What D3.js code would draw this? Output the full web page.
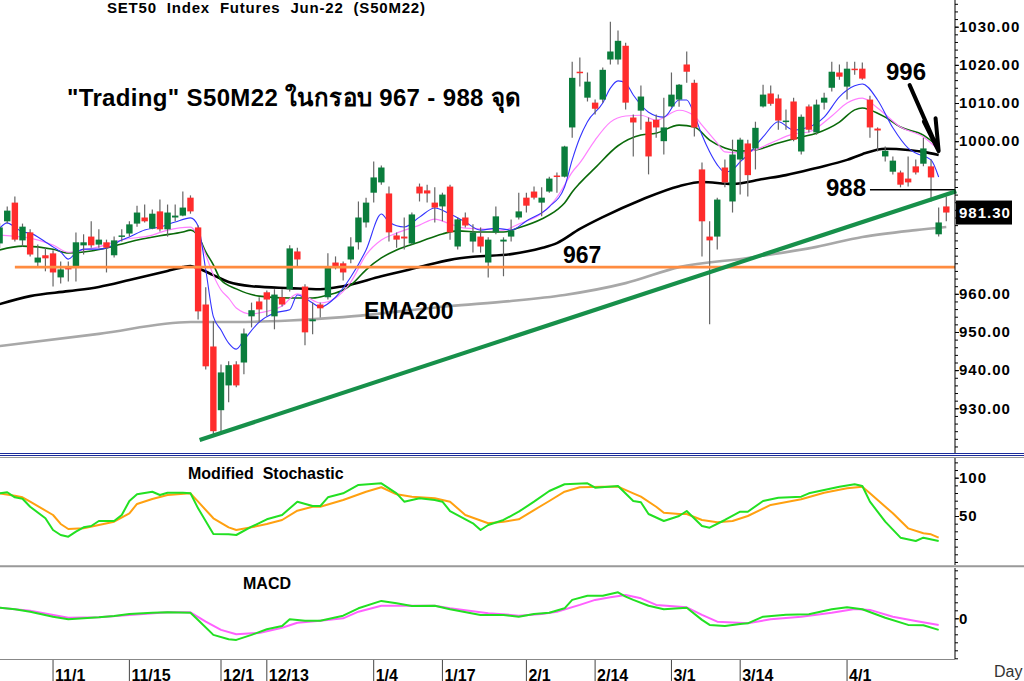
<!DOCTYPE html>
<html>
<head>
<meta charset="utf-8">
<script src="https://cdnjs.cloudflare.com/ajax/libs/d3/7.8.5/d3.min.js"></script>
<style>
  body { margin: 0; background: #fff; }
  svg text { font-family: "Liberation Sans", Arial, "Noto Sans", "DejaVu Sans", sans-serif; }
</style>
</head>
<body>
<div id="chart"></div>
<script>
// trading days, Oct 2021 - Apr 2022
var dates = ["10/20","10/21","10/22","10/26","10/27","10/28","10/29",
  "11/1","11/2","11/3","11/4","11/5","11/8","11/9","11/10","11/11","11/12","11/15","11/16","11/17","11/18","11/19","11/22","11/23","11/24","11/25","11/26","11/29","11/30",
  "12/1","12/2","12/3","12/7","12/8","12/9","12/13","12/14","12/15","12/16","12/17","12/20","12/21","12/22","12/23","12/24","12/27","12/28","12/29","12/30",
  "1/4","1/5","1/6","1/7","1/10","1/11","1/12","1/13","1/14","1/17","1/18","1/19","1/20","1/21","1/24","1/25","1/26","1/27","1/28","1/31",
  "2/1","2/2","2/3","2/4","2/7","2/8","2/9","2/10","2/11","2/14","2/15","2/17","2/18","2/21","2/22","2/23","2/24","2/25","2/28",
  "3/1","3/2","3/3","3/4","3/7","3/8","3/9","3/10","3/11","3/14","3/15","3/16","3/17","3/18","3/21","3/22","3/23","3/24","3/25","3/28","3/29","3/30","3/31",
  "4/1","4/4","4/5","4/7","4/8","4/11","4/12","4/18","4/19","4/20","4/21","4/22","4/25","4/26"];
var tickDates = ["11/1","11/15","12/1","12/13","1/4","1/17","2/1","2/14","3/1","3/14","4/1"];
var priceTicks = [930, 940, 950, 960, 1000, 1010, 1020, 1030];

var open = [973.2,979.0,983.9,974.0,976.1,968.2,970.1,970.6,964.3,967.2,967.2,972.7,975.0,972.9,973.5,970.1,975.0,975.8,978.4,980.0,
  977.1,981.6,976.9,980.0,980.5,985.2,977.4,957.2,946.2,929.5,936.0,941.5,942.0,954.1,958.0,960.4,954.1,959.1,961.2,971.1,
  961.9,952.8,957.2,959.1,968.2,968.0,969.0,973.5,978.7,986.5,989.2,986.3,975.3,975.0,973.2,988.1,987.1,983.9,982.9,988.1,
  972.4,980.0,973.7,975.0,968.2,976.1,973.7,975.0,980.0,985.2,986.8,983.9,986.8,991.0,990.7,1003.6,1018.2,1011.4,1010.1,1010.9,
  1021.4,1021.4,1025.0,1006.2,1008.0,1005.1,1005.6,1000.0,1009.1,1010.9,1020.1,1015.3,992.6,975.0,975.0,993.1,984.2,995.2,999.4,998.1,
  1009.1,1012.5,1011.2,1005.0,1010.4,997.3,1009.1,1002.3,1010.1,1014.0,1018.0,1014.3,1019.0,1019.0,1010.9,1003.3,996.0,992.0,991.8,990.2,
  993.4,994.1,993.4,975.6,982.9];
var high = [978.5,982.9,985.5,978.4,976.9,972.9,972.1,971.4,968.5,968.5,976.1,975.6,979.0,976.9,974.2,975.0,976.9,979.0,983.1,983.4,
  982.1,984.7,983.4,983.4,986.8,985.8,977.9,961.7,952.8,941.5,942.3,942.3,950.9,957.7,959.1,960.9,961.2,961.2,972.7,972.1,
  962.5,957.7,957.7,970.6,969.8,968.5,974.8,984.2,985.2,994.7,993.6,988.1,976.1,980.0,981.3,988.9,988.6,987.9,986.5,988.6,
  980.0,981.3,978.2,977.4,974.8,982.9,974.8,979.5,986.5,986.5,988.1,987.9,990.7,991.8,998.8,1020.8,1021.9,1018.0,1010.9,1019.3,
  1031.3,1029.0,1025.8,1007.0,1014.6,1006.2,1007.0,1011.4,1018.0,1015.0,1023.5,1016.1,994.4,979.0,985.2,995.2,1000.4,1000.9,1000.4,1005.1,
  1014.8,1014.6,1012.2,1008.3,1011.4,1007.0,1009.6,1010.9,1012.7,1020.8,1020.1,1020.8,1020.8,1020.6,1011.9,1003.6,998.6,996.0,992.3,996.0,
  995.2,1000.9,995.2,982.6,985.5];
var low = [972.0,978.4,973.7,972.4,969.8,967.2,965.9,961.9,962.7,963.2,963.2,970.3,972.1,972.1,965.6,969.5,973.7,975.0,977.6,978.7,
  976.9,976.3,975.0,979.0,980.3,981.0,953.3,940.2,923.2,924.0,931.6,935.5,938.9,951.2,952.5,954.1,950.7,956.7,960.6,967.2,
  946.5,949.4,953.8,958.5,966.4,963.5,968.0,971.6,977.4,983.9,988.6,973.7,972.1,971.6,972.9,984.2,983.9,978.7,979.0,974.2,
  971.6,977.4,970.8,970.8,964.3,975.6,964.6,973.7,979.5,981.3,984.7,980.3,986.5,986.5,990.5,1000.9,1014.3,1010.4,1007.0,1010.1,
  1020.1,1020.1,1008.3,996.0,1003.0,991.3,1000.9,996.5,1008.8,1009.0,1015.3,1001.2,969.8,952.0,971.6,987.9,981.3,986.0,985.5,992.6,
  1008.8,1009.3,1003.0,1003.0,1000.0,996.5,1002.3,1001.7,1008.3,1013.0,1016.1,1010.9,1017.4,1016.1,1000.9,997.3,994.7,991.3,987.9,988.1,
  991.3,993.4,984.2,975.0,979.0];
var close = [977.4,981.8,974.2,977.6,970.3,969.5,969.3,965.6,966.4,966.4,973.5,973.5,972.7,974.2,972.1,974.0,975.3,978.2,981.3,979.0,
  981.0,976.9,981.3,980.5,982.6,981.6,955.4,941.0,924.0,939.4,941.3,936.0,949.6,955.7,955.9,958.5,959.8,957.2,971.9,969.0,
  949.9,953.3,956.2,967.2,967.2,965.6,972.4,980.0,983.9,990.5,993.1,976.1,974.2,974.5,980.8,986.3,986.3,982.6,986.0,976.1,
  979.5,977.9,976.1,972.4,974.2,980.3,974.2,976.6,981.6,983.1,985.2,985.2,990.2,990.7,998.6,1016.6,1018.0,1015.6,1008.5,1018.7,
  1023.5,1026.3,1010.1,1004.9,1011.7,996.0,1003.6,1003.6,1012.2,1014.8,1018.2,1003.6,979.0,974.0,984.7,989.2,996.5,1000.4,991.1,1003.5,
  1012.2,1009.8,1005.4,1005.4,1000.4,1006.4,1003.0,1009.6,1011.4,1018.2,1016.9,1019.0,1018.7,1016.4,1003.6,1002.8,997.5,994.9,988.6,989.2,
  991.8,998.1,990.5,978.7,981.3];

// moving averages: [bar index, value]
var emaBlue = [[0,977.2],[1,978.6],[2,977.5],[3,976.2],[4,975.9],[6,973.6],[7,972.3],[8,971.0],[9,969.1],[10,970.7],[11,971.7],[13,971.7],
  [14,972.0],[16,974.1],[17,974.9],[19,976.7],[21,977.5],[23,978.8],[25,979.9],[26,977.8],[27,966.3],[28,954.0],[29,950.5],[30,947.1],
  [31,945.5],[32,947.9],[34,952.6],[36,955.0],[38,955.8],[39,959.7],[41,957.6],[42,956.5],[44,959.1],[46,964.4],[48,971.5],[50,980.9],
  [51,978.8],[53,977.5],[55,980.1],[57,982.5],[59,980.9],[61,978.8],[63,976.7],[65,977.2],[67,976.7],[69,979.1],[72,982.8],[74,988.0],
  [75,995.1],[76,1000.9],[77,1005.1],[79,1010.0],[80,1013.9],[81,1015.8],[82,1015.2],[83,1012.1],[85,1007.6],[87,1006.3],[89,1010.8],
  [90,1010.8],[91,1006.9],[92,1001.6],[93,997.2],[94,993.8],[95,991.9],[96,992.5],[97,994.6],[98,996.4],[100,1001.1],[102,1005.1],
  [104,1002.9],[106,1003.7],[108,1006.3],[110,1011.6],[112,1014.5],[113,1015.0],[115,1010.8],[117,1003.5],[119,998.2],[120,996.9],
  [122,995.1],[123,990.6]];
var emaPink = [[0,975.4],[3,974.9],[4,974.6],[7,972.8],[9,970.9],[11,971.5],[13,972.3],[16,974.1],[20,975.4],[22,976.7],[25,977.5],
  [26,975.1],[27,970.2],[28,964.9],[29,961.0],[30,958.9],[31,956.3],[33,954.7],[34,955.0],[37,956.8],[39,960.0],[40,959.4],[42,957.6],
  [44,958.9],[46,963.1],[48,970.2],[50,974.1],[52,975.9],[55,978.0],[57,979.6],[59,978.3],[61,977.2],[63,977.0],[66,976.7],[68,978.3],
  [71,981.1],[73,985.3],[74,988.5],[75,991.9],[76,994.3],[78,1000.3],[80,1005.0],[82,1006.6],[84,1006.8],[86,1005.5],[89,1008.1],
  [91,1006.6],[92,1004.2],[94,999.5],[95,997.2],[97,996.9],[99,997.7],[101,999.5],[104,1001.9],[106,1002.4],[109,1006.6],[111,1010.0],
  [113,1011.3],[115,1008.7],[118,1003.7],[121,1001.1],[123,997.7]];
var emaGreen = [[0,971.5],[3,972.5],[7,971.7],[9,970.7],[12,971.2],[14,972.0],[17,973.6],[21,975.2],[24,976.2],[25,976.7],[26,975.2],
  [27,971.0],[28,967.6],[29,963.6],[31,961.3],[34,959.4],[38,958.9],[41,958.9],[43,959.7],[45,961.0],[46,962.3],[48,966.3],[50,969.4],
  [52,971.5],[55,973.6],[58,975.7],[60,976.5],[63,976.2],[66,976.2],[68,977.3],[71,979.6],[73,982.0],[74,983.8],[75,986.7],[76,989.0],
  [78,993.0],[81,998.8],[84,1001.6],[86,1002.1],[89,1004.2],[91,1003.7],[93,1000.3],[95,998.2],[97,997.4],[99,997.7],[102,999.5],
  [105,1001.1],[107,1002.1],[110,1005.0],[112,1008.2],[113,1008.7],[114,1008.2],[116,1006.3],[118,1003.7],[121,1001.6],[123,998.5]];
var emaBlack = [[0,957.3],[4,959.4],[9,960.7],[13,961.8],[17,963.6],[22,966.0],[24,967.0],[25,967.3],[26,966.7],[28,964.9],[30,963.1],
  [33,962.0],[38,961.5],[42,961.2],[45,962.0],[50,964.6],[55,967.0],[59,968.9],[62,969.7],[67,970.4],[71,972.0],[73,973.3],[76,977.0],
  [79,980.1],[84,984.6],[89,988.2],[92,989.3],[96,988.8],[100,990.1],[103,991.1],[107,993.0],[111,995.1],[113,996.6],[116,998.0],
  [119,997.7],[121,997.2],[123,996.4]];
var ema200 = [[0,946.3],[13,949.5],[25,952.6],[31,952.6],[38,953.0],[45,953.9],[59,956.8],[67,958.1],[74,959.7],[82,962.8],[89,967.0],
  [98,969.4],[107,972.3],[113,974.9],[120,976.7],[124,977.5]];

// modified stochastic
var stochK = [[0,79.6],[1,81],[2,74.4],[3,72.6],[4,62.1],[6,47],[7,31.7],[8,25.2],[9,23],[10,29.5],[11,35.2],[12,36.9],[13,43.5],[15,43.5],
  [16,51.3],[17,69.6],[18,78.3],[20,81.7],[21,77.4],[22,80.4],[24,80.4],[25,79.6],[26,60],[28,26.5],[30,26.1],[31,25.2],[33,36],[35,45.7],
  [37,51.3],[39,68.7],[41,63],[42,63],[43,74.4],[45,79.6],[47,90.5],[50,92.7],[52,79.6],[53,68.7],[55,73.1],[57,70.9],[58,68.7],[59,56.5],
  [62,40.5],[63,31.7],[64,38.3],[66,44.8],[68,55.6],[70,68.7],[72,82.6],[74,91.4],[77,92.7],[78,86.9],[81,89.2],[83,69.6],[84,67.9],
  [85,52.6],[87,43.5],[89,50],[90,56.5],[92,36.9],[93,34.7],[95,44.8],[97,55.6],[98,55.6],[100,69.6],[102,73.9],[105,75.2],[106,79.6],
  [108,83.9],[110,88.3],[112,91.4],[113,89.2],[114,68.7],[116,42.6],[118,21.7],[120,17.4],[121,21.7],[123,17.4]];
var stochD = [[0,79.6],[2,76.5],[3,74.4],[4,68.7],[7,51.3],[8,39.6],[9,33],[11,33.9],[13,38.3],[15,42.6],[17,53.5],[18,65.7],[20,72.2],
  [22,77.4],[25,79.6],[26,68.7],[28,47],[30,35.2],[31,31.7],[33,35.2],[35,39.6],[37,44.8],[39,56.9],[41,62.1],[42,62.1],[45,70.9],
  [48,81.7],[50,87.5],[52,78.3],[54,75.2],[57,73.1],[59,68.7],[61,51.3],[64,40.5],[66,42.6],[68,45.7],[70,57.8],[72,69.6],[74,81.7],
  [76,87.5],[79,88.3],[81,88.3],[83,79.6],[84,75.2],[86,62.1],[87,54.3],[89,52.6],[90,52.6],[92,44.8],[94,41.8],[96,43.5],[98,50],
  [101,64.4],[105,71.8],[108,80.4],[111,86.2],[113,88.3],[114,79.6],[117,53.5],[119,33.9],[121,27.4],[122,26.1],[123,21.7]];

// MACD and signal
var macdLine = [[0,5.3],[2,4.5],[4,3.3],[7,0.8],[9,-0.5],[11,0],[13,0.5],[15,1.2],[17,2.2],[20,2.8],[22,3],[25,2.8],[26,-0.8],[28,-8.3],
  [30,-10.5],[31,-10.8],[33,-8.3],[35,-5.5],[37,-3.8],[38,-0.5],[40,-1.2],[42,-1.2],[45,1.3],[47,5],[50,8.7],[52,7.5],[54,6.2],[57,6.3],
  [59,4.5],[63,1.7],[66,1.7],[68,0.8],[70,2.2],[72,2.8],[74,5],[75,9.2],[77,11.3],[79,11.3],[81,13],[82,10.8],[83,9.2],[85,6.3],[87,4.5],
  [90,5.3],[92,-0.8],[93,-3.3],[95,-3.8],[97,-2.8],[98,-2.5],[100,0.8],[103,1.8],[106,2],[109,4.5],[111,5.5],[113,4.5],[116,0.3],
  [119,-3.3],[121,-3.5],[123,-5.8]];
var macdSignal = [[0,5.3],[4,3.8],[9,0.3],[13,0.5],[17,1.7],[22,3],[25,3],[27,-1.7],[29,-5.8],[31,-8],[34,-7.3],[37,-4.7],[39,-2.2],
  [42,-1.2],[45,0],[47,3.3],[50,6.3],[52,6.3],[57,6.3],[59,5],[64,2.5],[67,1.7],[68,1.3],[71,2.2],[73,3.3],[76,6.7],[78,9.2],[80,10.5],
  [82,11.7],[84,10],[86,6.7],[90,5.5],[92,1.7],[94,-1.7],[98,-2.5],[101,-0.5],[105,0.8],[109,2.8],[112,4.7],[114,4.2],[117,0.8],
  [120,-1.3],[123,-3.3]];

// drawn annotations
var supportLevel = 967;
var resistLevel = 987.3;
var trendLine = [[26.2,921.7],[125.3,986.9]];
var arrowLine = [[119.2,1014.7],[123.0,997.4]];
var lastPrice = 981.30;

var W = 1024, H = 681, axisX = 955;
var svg = d3.select("#chart").append("svg")
  .attr("width", W)
  .attr("height", H);

var x = d3.scaleLinear().domain([0, dates.length - 1]).range([-0.4, 946.3]);
var y = d3.scaleLinear().domain([930, 1030]).range([408.3, 26.7]);
var yS = d3.scaleLinear().domain([0, 100]).range([554.3, 477.7]);
var yM = d3.scaleLinear().domain([0, 10]).range([618.3, 598.3]);

function drawLine(pts, ys, color, width, curve) {
  var line = d3.line()
    .x(function(d) { return x(d[0]); })
    .y(function(d) { return ys(d[1]); })
    .curve(curve || d3.curveLinear);
  svg.append("path")
    .datum(pts)
    .attr("d", line)
    .attr("fill", "none")
    .attr("stroke", color)
    .attr("stroke-width", width)
    .attr("stroke-linejoin", "round");
}

// moving averages under the candles
drawLine(ema200, y, "#a8a8a8", 2.6, d3.curveMonotoneX);
drawLine(emaBlack, y, "#000", 2.6, d3.curveMonotoneX);
drawLine(emaGreen, y, "#0a6a0a", 1.6, d3.curveMonotoneX);
drawLine(emaPink, y, "#ff80ff", 1.2, d3.curveMonotoneX);
drawLine(emaBlue, y, "#3333ff", 1.1, d3.curveMonotoneX);

// candles
var idx = d3.range(dates.length);
svg.selectAll("line.wick")
  .data(idx)
  .enter()
  .append("line")
  .attr("class", "wick")
  .attr("x1", function(i) { return x(i); })
  .attr("x2", function(i) { return x(i); })
  .attr("y1", function(i) { return y(high[i]); })
  .attr("y2", function(i) { return y(low[i]); })
  .attr("stroke", "#666")
  .attr("stroke-width", 1.2);

svg.selectAll("rect.body")
  .data(idx)
  .enter()
  .append("rect")
  .attr("class", "body")
  .attr("x", function(i) { return x(i) - 3.2; })
  .attr("width", 6.4)
  .attr("y", function(i) { return y(Math.max(open[i], close[i])); })
  .attr("height", function(i) {
    return Math.max(1.5, Math.abs(y(open[i]) - y(close[i])));
  })
  .attr("fill", function(i) { return close[i] >= open[i] ? "#0a7d3c" : "#ff2c2c"; });

// annotation lines
svg.append("line")
  .attr("x1", x(2)).attr("x2", axisX)
  .attr("y1", y(supportLevel)).attr("y2", y(supportLevel))
  .attr("stroke", "#ff8c40").attr("stroke-width", 2.6);

svg.append("line")
  .attr("x1", x(114)).attr("x2", axisX)
  .attr("y1", y(resistLevel)).attr("y2", y(resistLevel))
  .attr("stroke", "#000").attr("stroke-width", 1.5);

drawLine(trendLine, y, "#17904a", 4.2);

var tail = [x(arrowLine[0][0]), y(arrowLine[0][1])];
var tip = [x(arrowLine[1][0]), y(arrowLine[1][1])];
var back = Math.atan2(tail[1] - tip[1], tail[0] - tip[0]);
var barbs = [back - 0.05, back + 0.32].map(function(a) {
  return [tip[0] + 33 * Math.cos(a), tip[1] + 33 * Math.sin(a)];
});
svg.append("path")
  .attr("d", "M" + tail + "L" + tip + "M" + barbs[0] + "L" + tip + "L" + barbs[1])
  .attr("fill", "none")
  .attr("stroke", "#000")
  .attr("stroke-width", 4)
  .attr("stroke-linecap", "round")
  .attr("stroke-linejoin", "miter");

// annotation text
function label(txt, px, py, size, weight) {
  return svg.append("text")
    .attr("x", px).attr("y", py)
    .attr("font-size", size + "px")
    .attr("font-weight", weight || "bold")
    .attr("fill", "#000")
    .style("white-space", "pre")
    .text(txt);
}
label("SET50  Index  Futures  Jun-22  (S50M22)", 107, 13, 15).attr("letter-spacing", "0.8px");
label("\"Trading\" S50M22 ในกรอบ 967 - 988 จุด", 67, 106, 24).attr("letter-spacing", "0.35px");
label("996", 886, 80, 24);
label("988", 826, 196, 24);
label("967", 563, 263, 23);
label("EMA200", 364, 319, 23);

// right axes
function rightAxis(ys, lo, hi, major, minor, fmt, top, bottom) {
  var g = svg.append("g").attr("transform", "translate(" + axisX + ",0)");
  g.append("line")
    .attr("x1", 0).attr("x2", 0).attr("y1", top).attr("y2", bottom)
    .attr("stroke", "#000");
  var minorAx = d3.axisRight(ys)
    .tickValues(d3.range(lo, hi + 0.01, minor).filter(function(v) {
      return ys(v) >= top && ys(v) <= bottom;
    }))
    .tickSize(3).tickFormat("");
  g.append("g").call(minorAx).call(function(s) { s.select(".domain").remove(); });
  var majorAx = d3.axisRight(ys)
    .tickValues(major)
    .tickSizeInner(4).tickSizeOuter(0).tickPadding(0)
    .tickFormat(fmt);
  var gm = g.append("g").call(majorAx);
  gm.select(".domain").remove();
  gm.selectAll("text")
    .attr("font-family", "Liberation Sans, Arial, sans-serif")
    .attr("font-size", "15px")
    .attr("font-weight", "bold")
    .attr("letter-spacing", "1px")
    .attr("fill", "#000");
  return g;
}
rightAxis(y, 918, 1036, priceTicks, 2, d3.format(".2f"), 0, 453);
rightAxis(yS, -10, 120, [50, 100], 10, d3.format("d"), 458, 565);
rightAxis(yM, -20, 24, [0], 4, d3.format("d"), 568, 659);

// last price box
svg.append("rect")
  .attr("x", 956).attr("y", y(lastPrice) - 12)
  .attr("width", 56).attr("height", 24)
  .attr("fill", "#000");
svg.append("text")
  .attr("x", 959).attr("y", y(lastPrice) + 5.5)
  .attr("font-size", "15px").attr("font-weight", "bold")
  .attr("letter-spacing", "1px")
  .attr("fill", "#fff")
  .text(d3.format(".2f")(lastPrice));

// panel separators
svg.append("line").attr("x1", 0).attr("x2", W).attr("y1", 453.5).attr("y2", 453.5)
  .attr("stroke", "#1a2a9a").attr("stroke-width", 1.2);
svg.append("line").attr("x1", 0).attr("x2", W).attr("y1", 455.5).attr("y2", 455.5)
  .attr("stroke", "#1a2a9a").attr("stroke-width", 1.2);
svg.append("line").attr("x1", 0).attr("x2", W).attr("y1", 457.5).attr("y2", 457.5)
  .attr("stroke", "#999").attr("stroke-width", 1);
svg.append("line").attr("x1", 0).attr("x2", W).attr("y1", 566.3).attr("y2", 566.3)
  .attr("stroke", "#999").attr("stroke-width", 2);
svg.append("line").attr("x1", 0).attr("x2", axisX).attr("y1", 659.5).attr("y2", 659.5)
  .attr("stroke", "#888").attr("stroke-width", 1);

// stochastic and MACD
label("Modified  Stochastic", 188, 479, 16);
drawLine(stochD, yS, "#ffa010", 2);
drawLine(stochK, yS, "#22e022", 2);

label("MACD", 243, 589, 16);
drawLine(macdSignal, yM, "#ff60ff", 2);
drawLine(macdLine, yM, "#22e022", 2);

// date axis
var xg = svg.append("g");
xg.selectAll("line")
  .data(tickDates)
  .enter()
  .append("line")
  .attr("x1", function(d) { return x(dates.indexOf(d)); })
  .attr("x2", function(d) { return x(dates.indexOf(d)); })
  .attr("y1", 660).attr("y2", H)
  .attr("stroke", "#444");
xg.selectAll("text")
  .data(tickDates)
  .enter()
  .append("text")
  .attr("x", function(d) { return x(dates.indexOf(d)) + 2; })
  .attr("y", 681)
  .attr("font-size", "16px")
  .attr("font-weight", "bold")
  .attr("fill", "#000")
  .text(function(d) { return d; });
label("Day", 994, 677, 16, "normal").attr("fill", "#333");
</script>
</body>
</html>
